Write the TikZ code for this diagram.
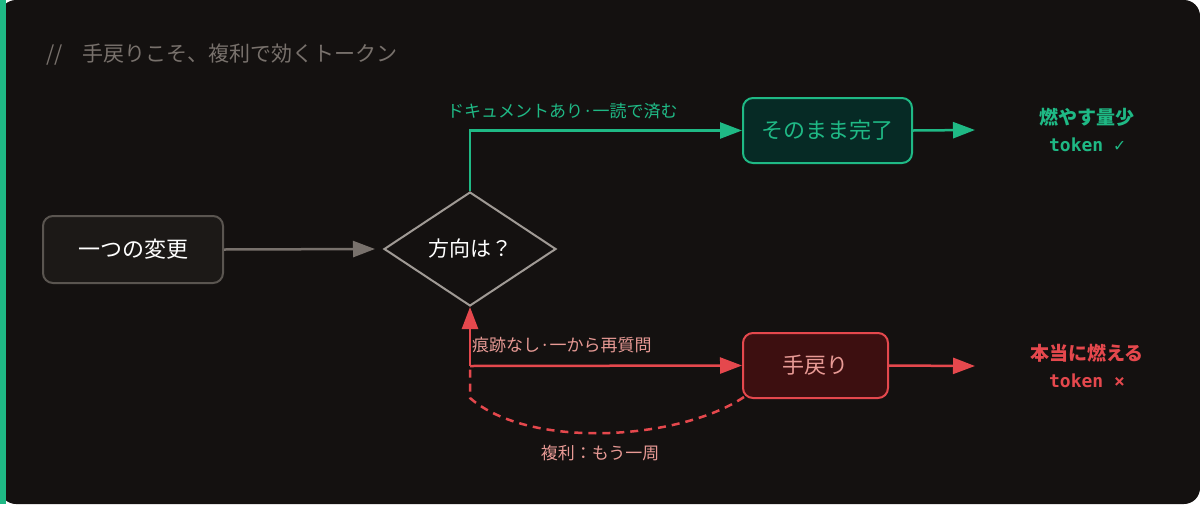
\documentclass[tikz,border=0pt]{standalone}
\usepackage{fontspec}
\setmainfont{Noto Sans CJK JP}
\setmonofont{DejaVu Sans Mono}
\usetikzlibrary{shapes.geometric,arrows.meta}
\definecolor{bg}{HTML}{141110}
\definecolor{grn}{HTML}{1FB985}
\definecolor{grnfill}{HTML}{062A25}
\definecolor{rd}{HTML}{E5484D}
\definecolor{rdfill}{HTML}{3D0F10}
\definecolor{pink}{HTML}{E89A95}
\definecolor{gry}{HTML}{78716C}
\definecolor{gbox}{HTML}{5A5550}
\definecolor{gfill}{HTML}{1C1917}
\definecolor{gdia}{HTML}{A09A95}
\tikzset{
 box/.style={draw,rounded corners=10pt,line width=2pt,inner sep=0pt,font=\fontsize{22}{26}\selectfont},
 arr/.style={line width=2.5pt,-{Triangle[length=22pt,width=16pt]}},
 lab/.style={font=\fontsize{17}{20}\selectfont,inner sep=0pt},
}
\begin{document}
\begin{tikzpicture}[x=1pt,y=-1pt]
\useasboundingbox (0,0) rectangle (1200,504);
\fill[bg,rounded corners=16pt] (0,0) rectangle (1200,504);
\fill[grn] (0,0) rectangle (6,504);
\node[anchor=west,text=gry,font=\fontsize{21}{24}\selectfont,inner sep=0pt] (title) at (46,55) {//\hspace{20pt}手戻りこそ、複利で効くトークン};
\node[box,draw=gbox,fill=gfill,text=white,minimum width=180pt,minimum height=67pt] (chg) at (133,249.5) {一つの変更};
\node[diamond,draw=gdia,line width=2pt,fill=bg,minimum width=172pt,minimum height=114pt,inner sep=0pt,text=white,font=\fontsize{21}{24}\selectfont,aspect=1.5] (dec) at (470,249) {方向は？};
\node[box,draw=grn,fill=grnfill,text=grn,minimum width=169pt,minimum height=65pt] (done) at (827.5,130.5) {そのまま完了};
\node[box,draw=rd,fill=rdfill,text=pink,minimum width=145pt,minimum height=65pt] (redo) at (815.5,365.5) {手戻り};
\coordinate (gend) at (975,130);
\coordinate (rend) at (975,366);
\coordinate (split) at (470,366);
\draw[arr,gry] (chg.east) -- (375,249);
\draw[arr,grn] (dec.north) |- (done.west);
\draw[arr,grn] (done.east) -- (gend);
\draw[arr,rd] (split) -- (redo.west);
\draw[arr,rd] (split) -- (dec.south);
\draw[arr,rd] (redo.east) -- (rend);
\draw[rd,line width=2.5pt,dash pattern=on 8pt off 6pt] (redo.south west)++(2,-2) .. controls (680,440) and (530,450) .. (470,398) -- (split);
\node[lab,text=grn,anchor=west] (l1) at (447,111) {ドキュメントあり·一読で済む};
\node[lab,text=pink,anchor=west] (l2) at (472,345) {痕跡なし·一から再質問};
\node[lab,text=pink] (l3) at (600,453) {複利：もう一周};
\node[text=grn,font=\fontsize{19}{22}\selectfont\bfseries,inner sep=0pt] (t1) at (1087,117) {燃やす量少};
\node[text=grn,font=\fontsize{18}{20}\ttfamily\bfseries,inner sep=0pt] (t2) at (1087,145) {token ✓};
\node[text=rd,font=\fontsize{19}{22}\selectfont\bfseries,inner sep=0pt] (t3) at (1087,353) {本当に燃える};
\node[text=rd,font=\fontsize{18}{20}\ttfamily\bfseries,inner sep=0pt] (t4) at (1087,381) {token ×};
\end{tikzpicture}
\end{document}
